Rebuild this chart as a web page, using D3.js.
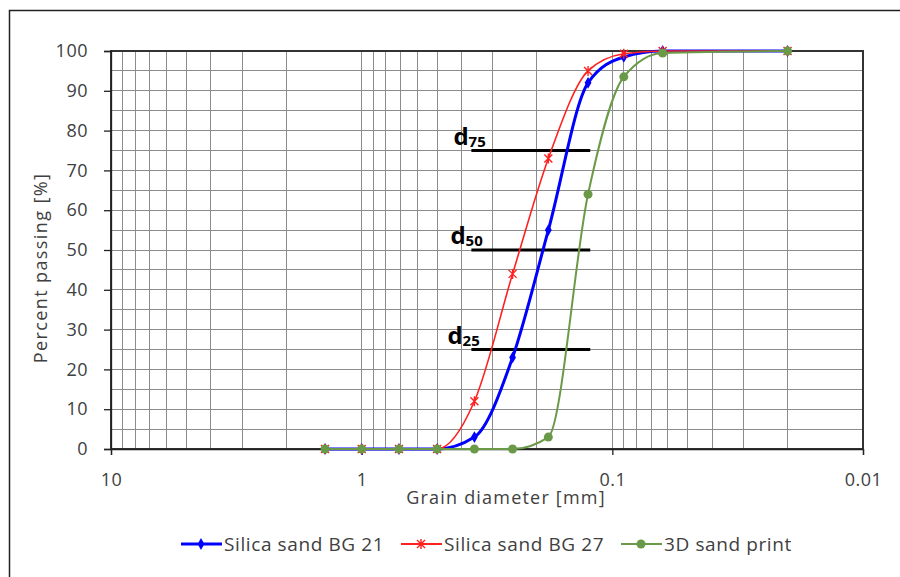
<!DOCTYPE html>
<html>
<head>
<meta charset="utf-8">
<title>Grain size distribution</title>
<script src="https://cdn.jsdelivr.net/npm/d3@7"></script>
<style>
  body { margin: 0; background: #fff; }
  text { font-family: "Open Sans", sans-serif; fill: #404040; }
  .grid line { stroke: #8c8c8c; stroke-width: 1; shape-rendering: crispEdges; }
</style>
</head>
<body>
<div id="chart"></div>
<script>
var width = 900, height = 577;
var margin = {left: 111, right: 37, top: 51, bottom: 128};

// sieve sizes [mm] and percent passing
var sizes = [1.4, 1.0, 0.71, 0.5, 0.355, 0.25, 0.18, 0.125, 0.09, 0.063, 0.02];
var bg21 = [0, 0, 0, 0, 3, 23, 55, 92, 98.5, 100, 100];
var bg27 = [0, 0, 0, 0, 12, 44, 73, 95, 99.3, 100, 100];
var print3d = [0, 0, 0, 0, 0, 0, 3, 64, 93.5, 99.5, 100];

var seriesNames = ["Silica sand BG 21", "Silica sand BG 27", "3D sand print"];
var seriesColors = ["#0000ff", "#ff2020", "#6a9a48"];
var seriesWidths = [3, 1.6, 2];
var seriesMarkers = ["diamond", "cross", "circle"];

var xTicks = [10, 1, 0.1, 0.01];
var xTickLabels = ["10", "1", "0.1", "0.01"];
var yTicks = [0, 10, 20, 30, 40, 50, 60, 70, 80, 90, 100];

// characteristic diameters
var dLevels = [75, 50, 25];
var dLabels = ["75", "50", "25"];
var dRange = [0.365, 0.1225];

var svg = d3.select("#chart").append("svg")
  .attr("width", width).attr("height", height);

svg.append("rect")
  .attr("x", 9.5).attr("y", 10.5)
  .attr("width", 900).attr("height", 600)
  .attr("fill", "none").attr("stroke", "#222").attr("stroke-width", 1.5);

var x = d3.scaleLog().domain([10, 0.01]).range([margin.left, width - margin.right]);
var y = d3.scaleLinear().domain([0, 100]).range([height - margin.bottom, margin.top]);

// gridlines
var grid = svg.append("g").attr("class", "grid");
var vTicks = [];
[1, 0.1, 0.01].forEach(function (dec) {
  for (var k = 1; k <= 9; k++) vTicks.push(dec * k);
});
grid.selectAll(".v").data(vTicks.filter(function (v) { return v < 10 && v > 0.01; }))
  .enter().append("line")
  .attr("x1", function (d) { return x(d); }).attr("x2", function (d) { return x(d); })
  .attr("y1", y(0)).attr("y2", y(100));
grid.selectAll(".h").data(d3.range(5, 100, 5))
  .enter().append("line")
  .attr("x1", x(10)).attr("x2", x(0.01))
  .attr("y1", function (d) { return y(d); }).attr("y2", function (d) { return y(d); });

// plot frame
svg.append("rect")
  .attr("x", x(10)).attr("y", y(100))
  .attr("width", x(0.01) - x(10)).attr("height", y(0) - y(100))
  .attr("fill", "none").attr("stroke", "#333").attr("stroke-width", 1.2)
  .attr("shape-rendering", "crispEdges");

// axes
var xAxis = d3.axisBottom(x).tickValues(xTicks)
  .tickFormat(function (d, i) { return xTickLabels[i]; })
  .tickSize(6).tickPadding(18);
var gx = svg.append("g").attr("transform", "translate(0," + y(0) + ")").call(xAxis);
gx.select(".domain").attr("stroke", "#222").attr("stroke-width", 1.3);
gx.selectAll(".tick line").attr("stroke", "#222").attr("stroke-width", 1.3);
gx.selectAll("text").attr("font-size", 18).attr("fill", "#404040")
  .style("font-family", "'Open Sans', sans-serif").style("letter-spacing", "0.5px");

var yAxis = d3.axisLeft(y).tickValues(yTicks).tickSize(7).tickPadding(16);
var gy = svg.append("g").attr("transform", "translate(" + x(10) + ",0)").call(yAxis);
gy.select(".domain").attr("stroke", "#222").attr("stroke-width", 1.3);
gy.selectAll(".tick line").attr("stroke", "#222").attr("stroke-width", 1.3);
gy.selectAll("text").attr("font-size", 18).attr("fill", "#404040")
  .style("font-family", "'Open Sans', sans-serif").style("letter-spacing", "0.5px");

svg.append("text")
  .attr("x", 506).attr("y", 504)
  .attr("text-anchor", "middle").attr("font-size", 18)
  .style("letter-spacing", "1.2px")
  .text("Grain diameter [mm]");

svg.append("text")
  .attr("transform", "translate(47,268) rotate(-90)")
  .attr("text-anchor", "middle").attr("font-size", 18)
  .style("letter-spacing", "1.4px")
  .text("Percent passing [%]");

// d-lines
var dg = svg.append("g");
dg.selectAll("line").data(dLevels).enter().append("line")
  .attr("x1", x(dRange[0])).attr("x2", x(dRange[1]))
  .attr("y1", function (d) { return y(d); }).attr("y2", function (d) { return y(d); })
  .attr("stroke", "#000").attr("stroke-width", 3);
var dt = dg.selectAll("text").data(dLevels).enter().append("text")
  .attr("x", function (d, i) { return x(dRange[0]) - 18 - i * 3; })
  .attr("y", function (d) { return y(d) - 6; })
  .attr("font-size", 24).attr("font-weight", "bold")
  .style("fill", "#000");
dt.append("tspan").text("d");
dt.append("tspan").attr("font-size", 15).attr("dy", 2).text(function (d, i) { return dLabels[i]; });

// series
var allSeries = [bg21, bg27, print3d];
var line = d3.line()
  .x(function (d, i) { return x(sizes[i]); })
  .y(function (d) { return y(d); })
  .curve(d3.curveMonotoneX);

function drawMarker(g, type, color, cx, cy) {
  if (type === "diamond") {
    g.append("path").attr("d", d3.symbol(d3.symbolDiamond, 40)())
      .attr("transform", "translate(" + cx + "," + cy + ")").attr("fill", color);
  } else if (type === "cross") {
    g.append("path").attr("d", "M-4,-4L4,4M-4,4L4,-4M0,-5L0,5")
      .attr("transform", "translate(" + cx + "," + cy + ")")
      .attr("stroke", color).attr("stroke-width", 1.4).attr("fill", "none");
  } else {
    g.append("circle").attr("cx", cx).attr("cy", cy).attr("r", 4.5).attr("fill", color);
  }
}

// excel order: BG 21, BG 27, then 3D print on top
[0, 1, 2].forEach(function (s) {
  var g = svg.append("g");
  g.append("path").datum(allSeries[s]).attr("d", line)
    .attr("fill", "none").attr("stroke", seriesColors[s])
    .attr("stroke-width", seriesWidths[s]);
  allSeries[s].forEach(function (v, i) {
    drawMarker(g, seriesMarkers[s], seriesColors[s], x(sizes[i]), y(v));
  });
});

// legend
var legendX = [181, 401, 621];
var lg = svg.append("g");
seriesNames.forEach(function (name, s) {
  var g = lg.append("g").attr("transform", "translate(" + legendX[s] + ",544)");
  g.append("line").attr("x1", 0).attr("x2", 41).attr("y1", 0).attr("y2", 0)
    .attr("stroke", seriesColors[s]).attr("stroke-width", s === 0 ? 3 : 2);
  drawMarker(g, seriesMarkers[s], seriesColors[s], 20, 0);
  g.append("text").attr("x", 43).attr("y", 7).attr("font-size", 19)
    .style("letter-spacing", "0.6px").text(name);
});
</script>
</body>
</html>
